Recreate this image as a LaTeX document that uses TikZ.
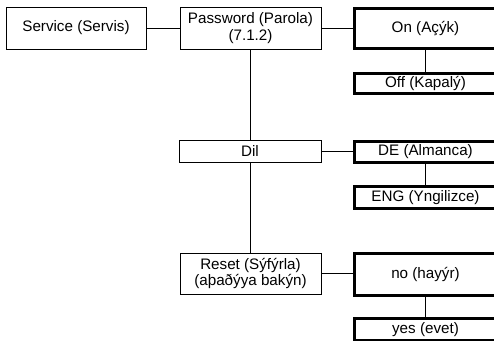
\documentclass[tikz,border=0pt]{standalone}
\usepackage{fontspec}
\setmainfont{Liberation Sans}
\begin{document}
\begin{tikzpicture}[x=1pt,y=-1pt,
  every node/.style={font=\fontsize{15.2}{16.5}\selectfont, inner sep=0pt, align=center},
  leftbox/.style={draw, line width=0.9pt},
  rightbox/.style={},
  thickb/.style={line width=3.2pt, line join=miter, line cap=butt},
  conn/.style={line width=0.9pt}]
\useasboundingbox (0,0) rectangle (494,340);
% left column boxes
\node[leftbox, minimum width=140pt, minimum height=42pt] (service) at (76,28) {Service (Servis)};
\node[leftbox, minimum width=141pt, minimum height=42pt] (password) at (250.5,28) {Password (Parola)\\(7.1.2)};
\node[leftbox, minimum width=142pt, minimum height=22pt] (dil) at (250,151) {Dil};
\node[leftbox, minimum width=141pt, minimum height=41pt] (reset) at (250.5,273.5) {Reset (Sýfýrla)\\(aþaðýya bakýn)};
% right column boxes (open on the right, cut by the page edge)
\node[rightbox, minimum width=142pt, minimum height=40pt] (on) at (425.5,28.5) {On (Açýk)};
\node[rightbox, minimum width=142pt, minimum height=20pt] (off) at (425.5,83.5) {Off (Kapalý)};
\node[rightbox, minimum width=142pt, minimum height=20pt] (de) at (425.5,152) {DE (Almanca)};
\node[rightbox, minimum width=142pt, minimum height=22pt] (eng) at (425.5,197.5) {ENG (Yngilizce)};
\node[rightbox, minimum width=142pt, minimum height=42pt] (no) at (425.5,274.5) {no (hayýr)};
\node[rightbox, minimum width=142pt, minimum height=22pt] (yes) at (425.5,329.5) {yes (evet)};
\foreach \n in {on,off,de,eng,no,yes}
  \draw[thickb] (\n.north east) -- (\n.north west) -- (\n.south west) -- (\n.south east);
% connectors
\draw[conn] (service.east) -- (password.west);
\draw[conn] (password.east) -- (password.east -| on.west);
\draw[conn] (password.south) -- (dil.north -| password.south);
\draw[conn] (dil.south -| password.south) -- (reset.north);
\draw[conn] (dil.east) -- (dil.east -| de.west);
\draw[conn] (reset.east) -- (reset.east -| no.west);
\draw[conn] (on.south) -- (off.north);
\draw[conn] (de.south) -- (eng.north);
\draw[conn] (no.south) -- (yes.north);
\end{tikzpicture}
\end{document}
